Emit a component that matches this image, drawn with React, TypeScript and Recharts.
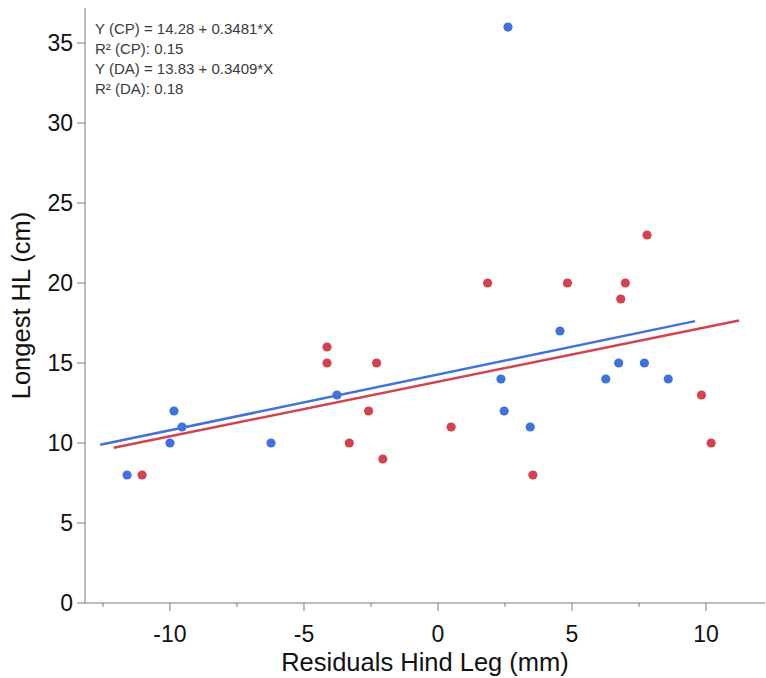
import { ScatterChart, Scatter, XAxis, YAxis } from "recharts";

// residual (mm) and longest HL (cm) per group
const cpX = [-11.6, -10.0, -9.85, -9.55, -6.23, -3.77, 2.61, 4.55, 2.35, 2.47, 3.44, 6.26, 6.74, 7.7, 8.59];
const cpY = [8, 10, 12, 11, 10, 13, 36, 17, 14, 12, 11, 14, 15, 15, 14];
const daX = [-11.04, -4.14, -4.14, -2.29, -2.59, -3.31, -2.06, 0.49, 1.85, 4.83, 6.99, 6.82, 7.8, 3.54, 9.83, 10.19];
const daY = [8, 16, 15, 15, 12, 10, 9, 11, 20, 20, 20, 19, 23, 8, 13, 10];

// fitted lines: intercept, slope and x extent
const cpFit = { a: 14.28, b: 0.3481, x: [-12.6, 9.59] };
const daFit = { a: 13.83, b: 0.3409, x: [-12.1, 11.23] };

const fitText = [
  "Y (CP) = 14.28 + 0.3481*X",
  "R² (CP): 0.15",
  "Y (DA) = 13.83 + 0.3409*X",
  "R² (DA): 0.18",
];

const xTicks = [-12.5, -10, -7.5, -5, -2.5, 0, 2.5, 5, 7.5, 10];
const yTicks = [0, 5, 10, 15, 20, 25, 30, 35];

const BLUE = "#4171dc";
const RED = "#d3424f";
const AXIS = "#7a7a7a";
const FONT = "'Liberation Sans', Arial, sans-serif";

const toPts = (xs: number[], ys: number[]) => xs.map((x, i) => ({ x, y: ys[i] }));
const fitPts = (f: { a: number; b: number; x: number[] }) => f.x.map((x) => ({ x, y: f.a + f.b * x }));

const dot = (color: string) => (p: any) => <circle cx={p.cx} cy={p.cy} r={4.6} fill={color} />;
const noDot = () => <g />;

function XTick(props: any) {
  const { x, y, payload } = props;
  const major = payload.value % 5 === 0;
  return (
    <g>
      <line x1={x} x2={x} y1={y} y2={y + (major ? 8 : 4)} stroke={AXIS} />
      {major && (
        <text x={x} y={y + 39} textAnchor="middle" fontSize={23} fill="#111" fontFamily={FONT}>
          {payload.value}
        </text>
      )}
    </g>
  );
}

export default function App() {
  return (
    <div style={{ position: "absolute", left: 0, top: 0, width: 766, height: 678, background: "#fff" }}>
      <ScatterChart width={766} height={678} margin={{ top: 8, right: 1, left: 0, bottom: 0 }}>
        <XAxis
          type="number"
          dataKey="x"
          domain={[-13.17, 12.2]}
          ticks={xTicks}
          interval={0}
          allowDataOverflow
          height={75}
          tickSize={0}
          tickMargin={0}
          tickLine={false}
          tick={<XTick />}
          axisLine={{ stroke: AXIS }}
          label={{
            value: "Residuals Hind Leg (mm)",
            position: "insideBottom",
            offset: 7,
            fontSize: 25.5,
            fill: "#111",
            fontFamily: FONT,
          }}
        />
        <XAxis
          xAxisId="top"
          orientation="top"
          type="number"
          dataKey="x"
          domain={[-13.17, 12.2]}
          height={0}
          tick={false}
          tickLine={false}
          axisLine={{ stroke: AXIS }}
        />
        <YAxis
          type="number"
          dataKey="y"
          domain={[0, 37.19]}
          ticks={yTicks}
          interval={0}
          allowDataOverflow
          width={85}
          tickSize={8}
          tickMargin={4}
          tickLine={{ stroke: AXIS }}
          axisLine={{ stroke: AXIS }}
          tick={{ fontSize: 23, fill: "#111", fontFamily: FONT }}
          label={{
            content: () => (
              <text
                x={30}
                y={305.5}
                transform="rotate(-90 30 305.5)"
                textAnchor="middle"
                fontSize={25.5}
                fill="#111"
                fontFamily={FONT}
              >
                Longest HL (cm)
              </text>
            ),
          }}
        />
        <Scatter data={fitPts(daFit)} line={{ stroke: RED, strokeWidth: 2.5 }} shape={noDot} isAnimationActive={false} />
        <Scatter data={fitPts(cpFit)} line={{ stroke: BLUE, strokeWidth: 2.5 }} shape={noDot} isAnimationActive={false} />
        <Scatter data={toPts(daX, daY)} shape={dot(RED)} isAnimationActive={false} />
        <Scatter data={toPts(cpX, cpY)} shape={dot(BLUE)} isAnimationActive={false} />
      </ScatterChart>
      <div
        style={{
          position: "absolute",
          left: 95,
          top: 19,
          fontFamily: FONT,
          fontSize: 15,
          lineHeight: "20px",
          color: "#3a3a3a",
          whiteSpace: "nowrap",
        }}
      >
        {fitText.map((t) => (
          <div key={t}>{t}</div>
        ))}
      </div>
    </div>
  );
}
